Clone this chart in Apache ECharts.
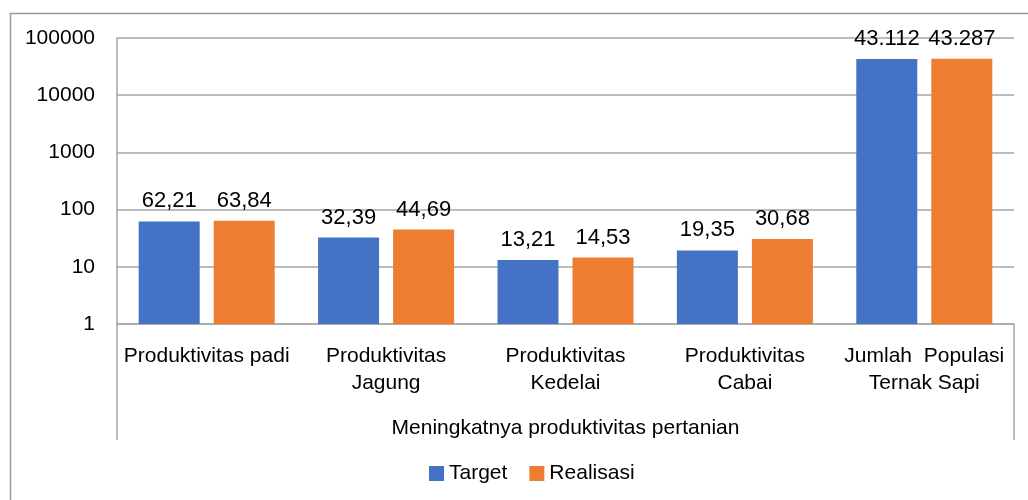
<!DOCTYPE html>
<html>
<head>
<meta charset="utf-8">
<script src="https://cdn.jsdelivr.net/npm/echarts@6/dist/echarts.min.js"></script>
<style>
    html, body { margin: 0; padding: 0; background: #fff; }
    #chart { width: 1028px; height: 500px; }
</style>
</head>
<body>
<div id="chart"></div>
<script>
// data
const categories = ['Produktivitas padi', 'Produktivitas\nJagung', 'Produktivitas\nKedelai', 'Produktivitas\nCabai', 'Jumlah  Populasi\nTernak Sapi'];
const groupLabels = ['Meningkatnya produktivitas pertanian'];
const targetValues = [62.21, 32.39, 13.21, 19.35, 43112];
const realisasiValues = [63.84, 44.69, 14.53, 30.68, 43287];
const yTicks = [1, 10, 100, 1000, 10000, 100000];

const FONT = 'Liberation Sans';
const GRID_COLOR = '#a6a6a6';
const GRID_LEFT = 117;
const GRID_RIGHT = 14;
const GRID_TOP = 38;
const GRID_BOTTOM = 176;

function fmtValue(v) {
    if (v >= 1000) {
        return String(Math.round(v)).replace(/\B(?=(\d{3})+(?!\d))/g, '.');
    }
    return v.toFixed(2).replace('.', ',');
}

const chart = echarts.init(document.getElementById('chart'));
const W = 1028, H = 500;
const axisY = H - GRID_BOTTOM;

const option = {
    animation: false,
    textStyle: { fontFamily: FONT, color: '#000' },
    grid: { left: GRID_LEFT, right: GRID_RIGHT, top: GRID_TOP, bottom: GRID_BOTTOM },
    graphic: [
        {
            type: 'rect',
            shape: { x: 10.5, y: 13.5, width: 1100, height: 600 },
            style: { fill: 'none', stroke: '#999', lineWidth: 1.5 },
            silent: true
        },
        // group separators below the category axis
        {
            type: 'line',
            shape: { x1: GRID_LEFT, y1: axisY, x2: GRID_LEFT, y2: axisY + 116 },
            style: { stroke: GRID_COLOR, lineWidth: 1.5 },
            silent: true
        },
        {
            type: 'line',
            shape: { x1: W - GRID_RIGHT, y1: axisY, x2: W - GRID_RIGHT, y2: axisY + 116 },
            style: { stroke: GRID_COLOR, lineWidth: 1.5 },
            silent: true
        }
    ],
    legend: {
        bottom: 11,
        left: 424,
        icon: 'rect',
        itemWidth: 15,
        itemHeight: 15,
        itemGap: 22,
        textStyle: { fontSize: 21, fontFamily: FONT, color: '#000' },
        data: ['Target', 'Realisasi']
    },
    xAxis: [
        {
            type: 'category',
            data: categories,
            axisLine: { lineStyle: { color: GRID_COLOR, width: 1.5 } },
            axisTick: { show: false },
            axisLabel: {
                interval: 0,
                margin: 19,
                fontSize: 21,
                lineHeight: 27,
                color: '#000',
                fontFamily: FONT
            }
        },
        {
            type: 'category',
            position: 'bottom',
            data: groupLabels,
            axisLine: { show: false },
            axisTick: { show: false },
            axisLabel: {
                margin: 94,
                fontSize: 21,
                color: '#000',
                fontFamily: FONT
            }
        }
    ],
    yAxis: {
        type: 'log',
        logBase: 10,
        min: 1,
        max: 100000,
        axisLine: { show: true, lineStyle: { color: GRID_COLOR, width: 1.5 } },
        axisTick: { show: false },
        splitLine: { lineStyle: { color: GRID_COLOR, width: 1.5 } },
        axisLabel: {
            margin: 22,
            fontSize: 21,
            color: '#000',
            fontFamily: FONT,
            formatter: function (v) {
                const r = Math.round(v);
                return yTicks.indexOf(r) >= 0 ? String(r) : '';
            }
        }
    },
    series: [
        {
            name: 'Target',
            type: 'bar',
            data: targetValues,
            barWidth: 61,
            barGap: '23%',
            itemStyle: { color: '#4472C4' },
            label: {
                show: true,
                position: 'top',
                distance: 9,
                fontSize: 22,
                color: '#000',
                fontFamily: FONT,
                formatter: function (p) { return fmtValue(p.value); }
            }
        },
        {
            name: 'Realisasi',
            type: 'bar',
            data: realisasiValues,
            barWidth: 61,
            barGap: '23%',
            itemStyle: { color: '#ED7D31' },
            label: {
                show: true,
                position: 'top',
                distance: 9,
                fontSize: 22,
                color: '#000',
                fontFamily: FONT,
                formatter: function (p) { return fmtValue(p.value); }
            }
        }
    ]
};

chart.setOption(option);

window.addEventListener('resize', function () {
    chart.resize();
});
</script>
</body>
</html>
